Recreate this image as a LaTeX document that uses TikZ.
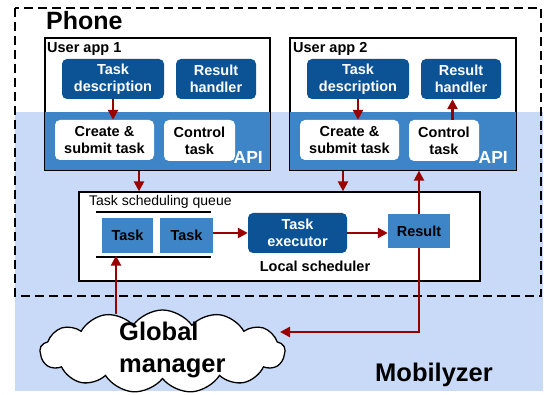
\documentclass[tikz,border=0pt]{standalone}
\usepackage{fontspec}
\setmainfont{Liberation Sans}
\usetikzlibrary{shapes.symbols,arrows.meta}
\definecolor{bgblue}{HTML}{C9DAF8}
\definecolor{apiblue}{HTML}{3D85C6}
\definecolor{darkblue}{HTML}{0B5394}
\definecolor{arrred}{HTML}{990000}
\begin{document}
\begin{tikzpicture}[x=1pt,y=-1pt,
  appbox/.style={draw=black, line width=1.3pt, fill=white, minimum width=#1, minimum height=132pt, inner sep=0},
  txt/.style={font=\fontsize{14.5}{17}\selectfont\bfseries, align=center},
  dbox/.style={txt, fill=darkblue, rounded corners=5pt, text=white, inner sep=0},
  wbox/.style={txt, fill=white, rounded corners=5pt, text=black, inner sep=0},
  qbox/.style={txt, fill=apiblue, text=black, inner sep=0},
  apilbl/.style={font=\fontsize{17.5}{20}\selectfont\bfseries, text=white, inner sep=0, anchor=base east},
  lbl/.style={font=\fontsize{14.5}{17}\selectfont\bfseries, inner sep=0},
  big/.style={font=\fontsize{25.5}{32}\selectfont\bfseries, inner sep=0},
  arr/.style={draw=arrred, line width=2.4pt, -{Triangle[length=10pt,width=10pt]}},
  qline/.style={draw=black, line width=2.2pt},
]
\useasboundingbox (0,0) rectangle (547,395);
\fill[white] (0,0) rectangle (547,395);
\fill[bgblue] (15,112) rectangle (543,391);
\draw[line width=2.2pt, dash pattern=on 9pt off 5pt] (15,8) rectangle (541,296);
\node[big, anchor=base west, font=\fontsize{25}{28}\selectfont\bfseries] (phone) at (46,29.5) {Phone};
\coordinate (apitop) at (0,112);

% User app 1
\node[appbox=225pt] (app1) at (157.5,104) {};
\fill[apiblue] (app1.west |- apitop) rectangle (app1.south east);
\draw[line width=1.3pt] (app1.north west) rectangle (app1.south east);
\node[lbl, anchor=base west] (ua1) at (47,53) {User app 1};
\node[dbox, minimum width=102pt, minimum height=40pt] (desc1) at (113,79) {Task\\description};
\node[dbox, minimum width=80pt, minimum height=40pt] (rh1) at (216,79) {Result\\handler};
\node[wbox, minimum width=99pt, minimum height=40pt] (cs1) at (104.5,140) {Create \&\\submit task};
\node[wbox, minimum width=71pt, minimum height=41pt] (ct1) at (199.5,140.5) {Control\\task};
\node[apilbl] (api1) at (263,164) {API};

% User app 2
\node[appbox=226pt] (app2) at (403,104) {};
\fill[apiblue] (app2.west |- apitop) rectangle (app2.south east);
\draw[line width=1.3pt] (app2.north west) rectangle (app2.south east);
\node[lbl, anchor=base west] (ua2) at (293,53) {User app 2};
\node[dbox, minimum width=102pt, minimum height=40pt] (desc2) at (358,79) {Task\\description};
\node[dbox, minimum width=80pt, minimum height=40pt] (rh2) at (461,79) {Result\\handler};
\node[wbox, minimum width=99pt, minimum height=40pt] (cs2) at (349.5,140) {Create \&\\submit task};
\node[wbox, minimum width=70pt, minimum height=41pt] (ct2) at (444,140.5) {Control\\task};
\node[apilbl] (api2) at (508,164) {API};

% Local scheduler
\node[draw=black, line width=1.3pt, fill=white, minimum width=401pt, minimum height=89pt, inner sep=0] (queue) at (279.5,236.5) {};
\node[anchor=base west, inner sep=0, font=\fontsize{14}{17}\selectfont] (qlabel) at (89,206) {Task scheduling queue};
\coordinate (qa1) at (96,211.7);
\coordinate (qa2) at (211,211.7);
\coordinate (qb1) at (96,256.7);
\coordinate (qb2) at (211,256.7);
\draw[qline] (qa1) -- (qa2);
\draw[qline] (qb1) -- (qb2);
\node[qbox, minimum width=51pt, minimum height=35pt] (t1) at (127.5,235.5) {Task};
\node[qbox, minimum width=53pt, minimum height=35pt] (t2) at (186.5,235.5) {Task};
\node[dbox, minimum width=99pt, minimum height=40pt] (exec) at (297.5,233) {Task\\executor};
\node[qbox, minimum width=62pt, minimum height=34pt] (res) at (419,231) {Result};
\node[lbl, anchor=base] (ls) at (315,272) {Local scheduler};

% Global manager
\node[cloud, cloud puffs=13, cloud puff arc=110, draw=black, line width=1.3pt, fill=white, minimum width=245pt, minimum height=83pt, aspect=2.9, inner sep=0] (gm) at (162.5,351.5) {};
\node[big, anchor=west, align=left] (gmtext) at (119,350) {Global\\manager};
\coordinate (gmtop) at (116,314);
\coordinate (gmright) at (280,332);

\node[big, anchor=base west] (mob) at (375,382) {Mobilyzer};

% Arrows
\draw[arr] (desc1.south) -- (desc1.south |- cs1.north);
\draw[arr] (desc2.south) -- (desc2.south |- cs2.north);
\draw[arr] ([xshift=8.5pt]ct2.north) -- ([xshift=8.5pt]ct2.north |- rh2.south);
\draw[arr] ([xshift=-18.5pt]app1.south) -- ([xshift=-18.5pt]app1.south |- queue.north);
\draw[arr] ([xshift=-60pt]app2.south) -- ([xshift=-60pt]app2.south |- queue.north);
\draw[arr] (res.north) -- (res.north |- app2.south);
\draw[arr] (t2.east |- exec.west) -- (exec.west);
\draw[arr] (exec.east) -- (exec.east -| res.west);
\draw[arr] (gmtop) -- ([yshift=1pt]gmtop |- qb1);
\draw[arr] (res.south) |- (gmright);
\end{tikzpicture}
\end{document}
